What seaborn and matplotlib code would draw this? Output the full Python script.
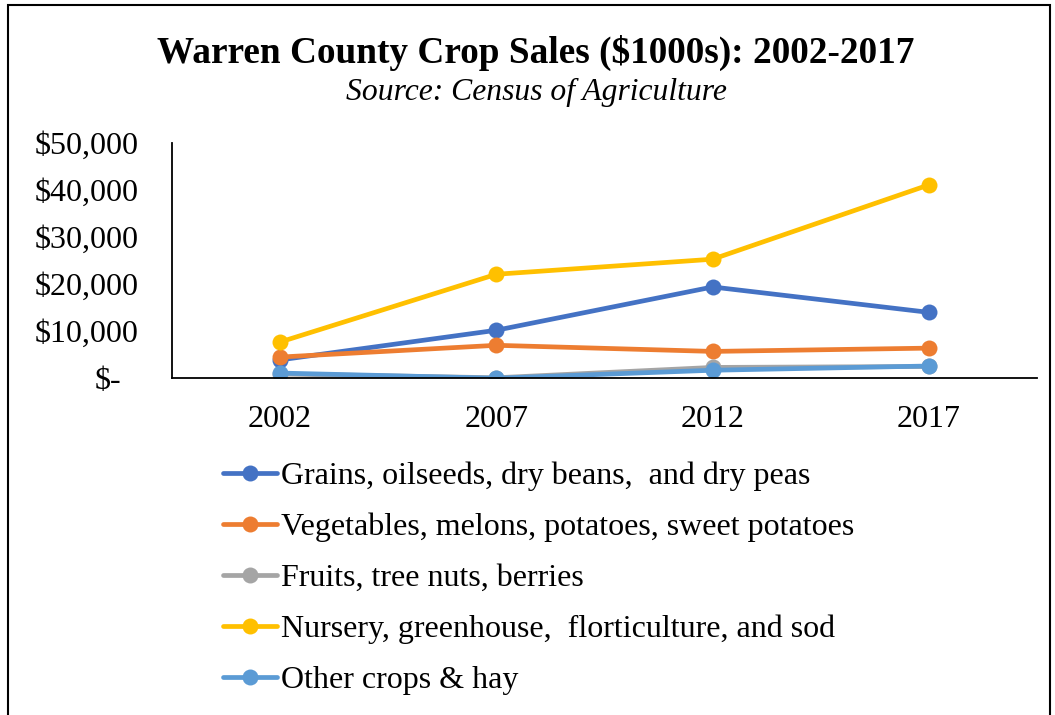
import matplotlib
matplotlib.use("Agg")
import matplotlib.pyplot as plt
import seaborn as sns
import pandas as pd
from matplotlib.patches import Rectangle
from matplotlib.transforms import ScaledTranslation

years = [2002, 2007, 2012, 2017]
series_names = [
    "Grains, oilseeds, dry beans,  and dry peas",
    "Vegetables, melons, potatoes, sweet potatoes",
    "Fruits, tree nuts, berries",
    "Nursery, greenhouse,  florticulture, and sod",
    "Other crops & hay",
]
grains = [3900, 10200, 19400, 14000]
vegetables = [4500, 7000, 5700, 6400]
fruits = [900, 100, 2300, 2500]
nursery = [7700, 22100, 25300, 41100]
other = [1100, 0, 1700, 2600]
colors = ["#4472C4", "#ED7D31", "#A5A5A5", "#FFC000", "#5B9BD5"]
ytick_vals = [0, 10000, 20000, 30000, 40000, 50000]
ytick_labels = ["$-", "$10,000", "$20,000", "$30,000", "$40,000", "$50,000"]

values = [grains, vegetables, fruits, nursery, other]
rows = []
for name, vals in zip(series_names, values):
    for yr, v in zip(years, vals):
        rows.append({"Year": yr, "Sales": v, "Series": name})
df = pd.DataFrame(rows)

sns.set_theme(style="white")
plt.rcParams["font.family"] = ["Liberation Serif", "DejaVu Serif"]
plt.rcParams["text.color"] = "black"
plt.rcParams["xtick.color"] = "black"
plt.rcParams["ytick.color"] = "black"
plt.rcParams["axes.labelcolor"] = "black"

fig = plt.figure(figsize=(10.55, 7.15), dpi=100)
ax = fig.add_axes([0.163, 0.471, 0.820, 0.329])

sns.lineplot(data=df, x="Year", y="Sales", hue="Series", hue_order=series_names,
             palette=colors, marker="o", markersize=11.5, markeredgewidth=0,
             linewidth=3.4, ax=ax, legend=True)

ax.set_xlim(1999.5, 2019.5)
ax.set_ylim(0, 50000)
ax.set_xticks(years)
ax.set_xticklabels([str(y) for y in years], fontsize=23)
ax.set_yticks(ytick_vals)
ax.set_yticklabels(ytick_labels, fontsize=23)
ax.tick_params(axis="x", length=0, pad=19)
ax.tick_params(axis="y", length=0, pad=24)
ax.set_xlabel("")
ax.set_ylabel("")
for s in ["top", "right"]:
    ax.spines[s].set_visible(False)
for s in ["left", "bottom"]:
    ax.spines[s].set_color("black")
    ax.spines[s].set_linewidth(1.3)

# accounting-style zero label
lbl0 = ax.get_yticklabels()[0]
lbl0.set_transform(lbl0.get_transform() + ScaledTranslation(-0.17, 0, fig.dpi_scale_trans))

handles, labels = ax.get_legend_handles_labels()
leg = ax.legend(handles, labels, loc="upper left", bbox_to_anchor=(0.211, 0.354),
                bbox_transform=fig.transFigure, frameon=False, fontsize=23,
                handlelength=1.71, handletextpad=0.12, labelspacing=0.67,
                borderpad=0, borderaxespad=0)
for t in leg.get_texts():
    t.set_color("black")

fig.text(0.508, 0.912, "Warren County Crop Sales ($1000s): 2002-2017",
         ha="center", va="baseline", fontsize=26.8, fontweight="bold")
fig.text(0.508, 0.860, "Source: Census of Agriculture",
         ha="center", va="baseline", fontsize=22.8, fontstyle="italic")

fig.patches.append(Rectangle((0.008, -0.01), 0.987, 1.003, transform=fig.transFigure,
                             fill=False, edgecolor="black", linewidth=1.5))

fig.savefig("out.png", dpi=100)
